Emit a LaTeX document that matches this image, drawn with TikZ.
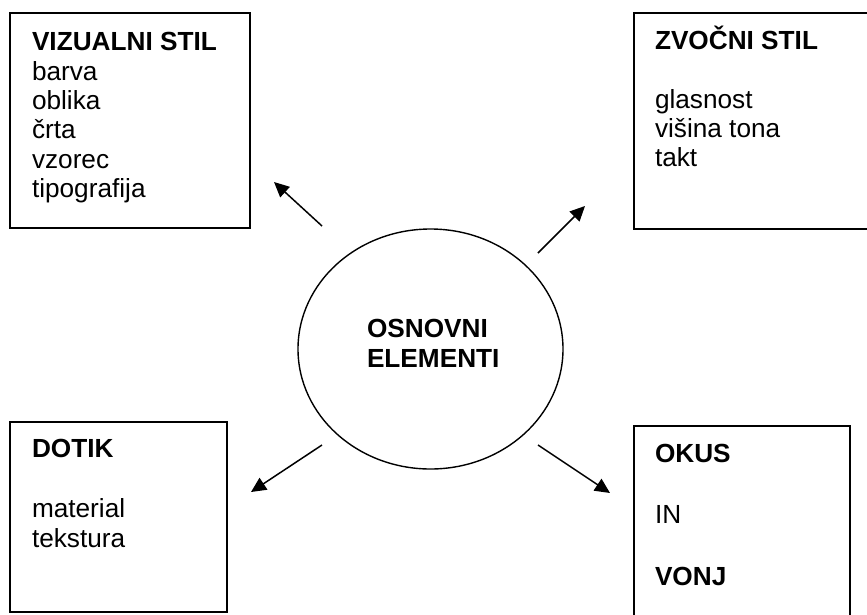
\documentclass[tikz,border=0pt]{standalone}
\usepackage{fontspec}
\setmainfont{Liberation Sans}
\usetikzlibrary{shapes.geometric,arrows.meta}
\begin{document}
\begin{tikzpicture}[x=1pt,y=-1pt,
  box/.style={draw, line width=1.4pt, rectangle, anchor=north west, inner sep=0pt, outer sep=0pt},
  txt/.style={anchor=base west, inner sep=0pt, outer sep=0pt, font=\fontsize{26.2}{29.5}\selectfont},
  hd/.style={anchor=base west, inner sep=0pt, outer sep=0pt, font=\fontsize{26.2}{29.5}\selectfont\bfseries},
  arr/.style={line width=1.5pt, -{Triangle[length=15pt,width=14pt]}}]
\useasboundingbox (0,0) rectangle (867,614);
\clip (0,0) rectangle (867,614);
\fill[white] (0,0) rectangle (867,614);
% boxes
\node[box, minimum width=240pt, minimum height=215pt] (vis) at (10,13) {};
\node[box, minimum width=245pt, minimum height=216pt] (zvo) at (634,13) {};
\node[box, minimum width=217pt, minimum height=190pt] (dot) at (10,422) {};
\node[box, minimum width=216pt, minimum height=200pt] (oku) at (634,426) {};
% centre
\node[draw, ellipse, line width=1.4pt, minimum width=265pt, minimum height=240pt, inner sep=0pt] (core) at (430.5,349) {};
\node[hd] (c1) at (367,337) {OSNOVNI};
\node[hd] (c2) at (367,367) {ELEMENTI};
% visual
\node[hd] (v0) at (32,50) {VIZUALNI STIL};
\node[txt] (v1) at (32,80) {barva};
\node[txt] (v2) at (32,109) {oblika};
\node[txt] (v3) at (32,138) {črta};
\node[txt] (v4) at (32,168) {vzorec};
\node[txt] (v5) at (32,197) {tipografija};
% sound
\node[hd] (z0) at (655,49) {ZVOČNI STIL};
\node[txt] (z1) at (655,108) {glasnost};
\node[txt] (z2) at (655,137) {višina tona};
\node[txt] (z3) at (655,166) {takt};
% touch
\node[hd] (d0) at (32,457) {DOTIK};
\node[txt] (d1) at (32,517) {material};
\node[txt] (d2) at (32,547) {tekstura};
% taste
\node[hd] (o0) at (655,462) {OKUS};
\node[txt] (o1) at (655,523) {IN};
\node[hd] (o2) at (655,585) {VONJ};
% arrows
\coordinate (a1s) at (322,226); \coordinate (a1e) at (274,182);
\coordinate (a2s) at (538,253); \coordinate (a2e) at (585,206);
\coordinate (a3s) at (322,445); \coordinate (a3e) at (251,492);
\coordinate (a4s) at (538,445); \coordinate (a4e) at (610,493);
\draw[arr] (a1s) -- (a1e);
\draw[arr] (a2s) -- (a2e);
\draw[arr] (a3s) -- (a3e);
\draw[arr] (a4s) -- (a4e);
\end{tikzpicture}
\end{document}
